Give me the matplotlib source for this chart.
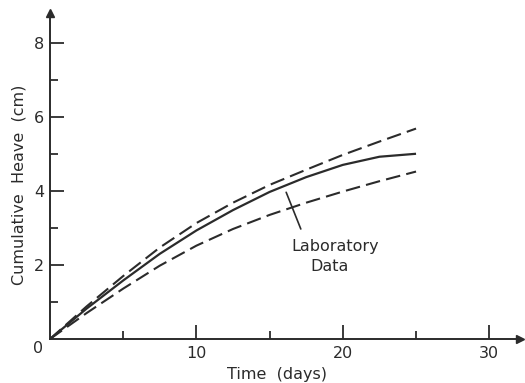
import matplotlib
matplotlib.use("Agg")
import matplotlib.pyplot as plt

# Data
days = [0, 2.5, 5, 7.5, 10, 12.5, 15, 17.5, 20, 22.5, 25]
lab_data = [0, 0.82, 1.58, 2.30, 2.93, 3.48, 3.97, 4.37, 4.70, 4.92, 5.00]
upper_bound = [0, 0.88, 1.70, 2.47, 3.13, 3.68, 4.16, 4.57, 4.97, 5.33, 5.68]
lower_bound = [0, 0.70, 1.36, 1.98, 2.52, 2.97, 3.35, 3.68, 3.98, 4.26, 4.52]

x_major = [10, 20, 30]
x_major_labels = ["10", "20", "30"]
x_minor = [5, 15, 25]
y_major = [2, 4, 6, 8]
y_major_labels = ["2", "4", "6", "8"]
y_minor = [1, 3, 5, 7]

ink = "#2b2b2b"
plt.rcParams["font.family"] = ["DejaVu Sans"]

fig = plt.figure(figsize=(5.25, 3.83), dpi=100)
W, H = 525, 383
x0, y0 = 50, 339
x1, y1 = 520, 13
ax = fig.add_axes([x0 / W, (H - y0) / H, (x1 - x0) / W, (y0 - y1) / H])
ax.set_xlim(0, 32.1)
ax.set_ylim(0, 8.8)

for s in ["top", "right"]:
    ax.spines[s].set_visible(False)
for s in ["left", "bottom"]:
    ax.spines[s].set_color(ink)
    ax.spines[s].set_linewidth(1.4)

# arrow heads
ax.plot(1, 0, ">", transform=ax.transAxes, clip_on=False, color=ink, ms=6)
ax.plot(0, 1, "^", transform=ax.transAxes, clip_on=False, color=ink, ms=6)

ax.plot(days, lab_data, color=ink, lw=1.6, solid_capstyle="butt")
ax.plot(days, upper_bound, color=ink, lw=1.5, dashes=(7, 3))
ax.plot(days, lower_bound, color=ink, lw=1.5, dashes=(7, 3))

ax.set_xticks(x_major)
ax.set_xticklabels(x_major_labels)
ax.set_xticks(x_minor, minor=True)
ax.set_yticks(y_major)
ax.set_yticklabels(y_major_labels)
ax.set_yticks(y_minor, minor=True)
ax.tick_params(which="major", direction="in", length=10, width=1.3, color=ink,
               labelsize=11.5, labelcolor=ink)
ax.tick_params(which="minor", direction="in", length=6, width=1.3, color=ink)
ax.tick_params(axis="x", which="major", pad=5)
ax.tick_params(axis="y", which="major", pad=4)

ax.text(-0.8, -0.25, "0", ha="center", va="center", fontsize=11.5, color=ink)

ax.set_xlabel("Time  (days)", fontsize=11.5, color=ink)
ax.xaxis.set_label_coords(0.483, -0.085)
ax.set_ylabel("Cumulative  Heave  (cm)", fontsize=11.5, color=ink)
ax.yaxis.set_label_coords(-0.05, 0.472)

ax.annotate("", xy=(16.06, 4.03), xytext=(17.2, 2.9),
            arrowprops=dict(arrowstyle="-", color=ink, lw=1.2))
ax.text(19.5, 2.51, "Laboratory", ha="center", va="center", fontsize=11.5, color=ink)
ax.text(19.1, 1.97, "Data", ha="center", va="center", fontsize=11.5, color=ink)

fig.savefig("out.png", dpi=100)
